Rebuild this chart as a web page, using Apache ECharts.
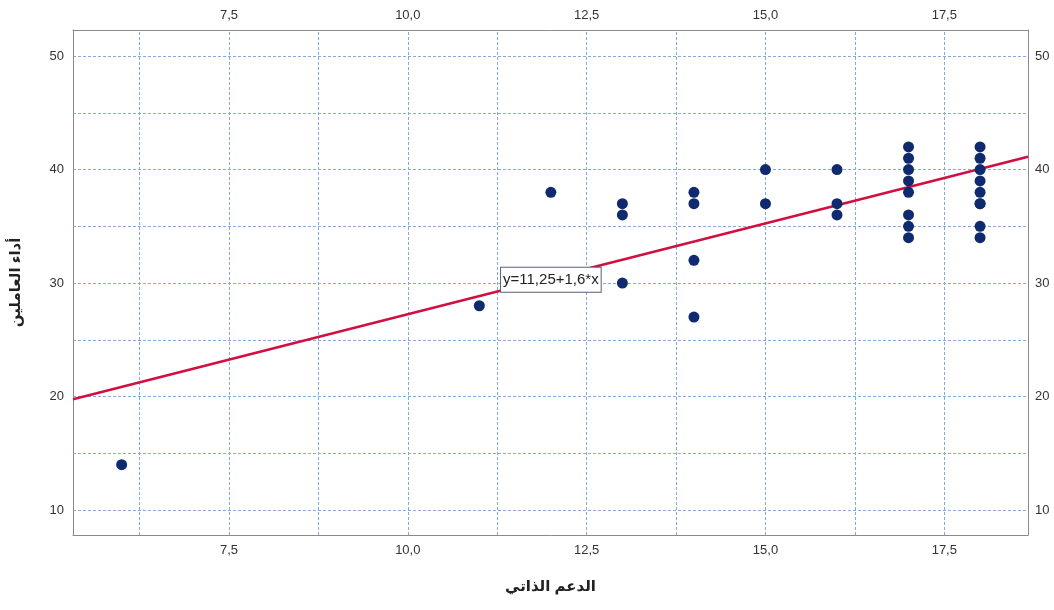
<!DOCTYPE html>
<html>
<head>
<meta charset="utf-8">
<script src="https://cdn.jsdelivr.net/npm/echarts@6/dist/echarts.min.js"></script>
<style>
html,body{margin:0;padding:0;background:#fff;}
#chart{width:1054px;height:610px;}
</style>
</head>
<body>
<div id="chart"></div>
<script>
// Data
var xValues = [6, 11, 12, 13, 13, 13, 14, 14, 14, 14, 15, 15, 16, 16, 16,
  17, 17, 17, 17, 17, 17, 17, 17,
  18, 18, 18, 18, 18, 18, 18, 18, 18];
var yValues = [14, 28, 38, 37, 36, 30, 38, 37, 32, 27, 40, 37, 40, 37, 36,
  42, 41, 40, 39, 38, 36, 35, 34,
  42, 41, 40, 39, 38, 37, 37, 35, 34];
var fitIntercept = 11.25;
var fitSlope = 1.6;
var fitLabel = 'y=11,25+1,6*x';
var fitLabelAt = [12.0, 30.3];
var xTickLabels = [7.5, 10, 12.5, 15, 17.5];
var yTickLabels = [10, 20, 30, 40, 50];
var xGridValues = [6.25, 7.5, 8.75, 10, 11.25, 12.5, 13.75, 15, 16.25, 17.5];
var yGridValues = [10, 15, 20, 25, 30, 35, 40, 45, 50];
var xRange = [5.32, 18.67];
var yRange = [7.8, 52.3];
var xTitle = 'الدعم الذاتي';
var yTitle = 'أداء العاملين';

var FONT = '"Liberation Sans", Arial, "DejaVu Sans", sans-serif';
var points = xValues.map(function (x, i) { return [x, yValues[i]]; });
var fitLine = xRange.map(function (x) { return [x, fitIntercept + fitSlope * x]; });
function fmt(v) { return v.toFixed(1).replace('.', ','); }

var axisLineStyle = { show: true, lineStyle: { color: '#8a8a8a', width: 1 } };
var labelStyle = { color: '#333', fontSize: 13, fontFamily: FONT };

var chart = echarts.init(document.getElementById('chart'));
chart.setOption({
  backgroundColor: '#fff',
  animation: false,
  grid: { left: 72, right: 26, top: 30, bottom: 75, containLabel: false },
  xAxis: [
    {
      type: 'value', position: 'bottom', min: xRange[0], max: xRange[1],
      axisLine: axisLineStyle, axisTick: { show: false }, splitLine: { show: false },
      axisLabel: Object.assign({ customValues: xTickLabels, formatter: fmt, margin: 9 }, labelStyle),
      name: xTitle, nameLocation: 'middle', nameGap: 44,
      nameTextStyle: { fontSize: 15, fontWeight: 'bold', color: '#222', fontFamily: FONT }
    },
    {
      type: 'value', position: 'top', min: xRange[0], max: xRange[1],
      axisLine: axisLineStyle, axisTick: { show: false }, splitLine: { show: false },
      axisLabel: Object.assign({ customValues: xTickLabels, formatter: fmt, margin: 8 }, labelStyle)
    }
  ],
  yAxis: [
    {
      type: 'value', position: 'left', min: yRange[0], max: yRange[1],
      axisLine: axisLineStyle, axisTick: { show: false }, splitLine: { show: false },
      axisLabel: Object.assign({ customValues: yTickLabels, margin: 9 }, labelStyle),
      name: yTitle, nameLocation: 'middle', nameGap: 50, nameRotate: 90,
      nameTextStyle: { fontSize: 15, fontWeight: 'bold', color: '#222', fontFamily: FONT }
    },
    {
      type: 'value', position: 'right', min: yRange[0], max: yRange[1],
      axisLine: axisLineStyle, axisTick: { show: false }, splitLine: { show: false },
      axisLabel: Object.assign({ customValues: yTickLabels, margin: 7 }, labelStyle)
    }
  ],
  series: [
    {
      type: 'scatter', xAxisIndex: 0, yAxisIndex: 0, z: 1,
      data: [],
      markLine: {
        silent: true, symbol: 'none', label: { show: false }, z: 0,
        lineStyle: { type: [3, 2], color: '#86aadc', width: 1 },
        data: xGridValues.map(function (v) { return { xAxis: v }; })
          .concat(yGridValues.map(function (v) { return { yAxis: v }; }))
      }
    },
    {
      type: 'line', xAxisIndex: 0, yAxisIndex: 0, z: 3,
      data: fitLine, symbol: 'none',
      lineStyle: { color: '#cf1040', width: 2.6 },
      markPoint: {
        silent: true, symbol: 'rect', symbolSize: 1, z: 10,
        itemStyle: { color: 'rgba(0,0,0,0)' },
        data: [{ coord: fitLabelAt }],
        label: {
          show: true, position: 'inside', formatter: fitLabel,
          color: '#222', fontSize: 15, fontFamily: FONT,
          backgroundColor: '#fff', borderColor: '#5a5f80', borderWidth: 1,
          padding: [5, 2, 4, 2]
        }
      }
    },
    {
      type: 'scatter', xAxisIndex: 0, yAxisIndex: 0, z: 4,
      data: points, symbolSize: 11,
      itemStyle: { color: '#0f2a6e', opacity: 1 }
    }
  ]
});
</script>
</body>
</html>
